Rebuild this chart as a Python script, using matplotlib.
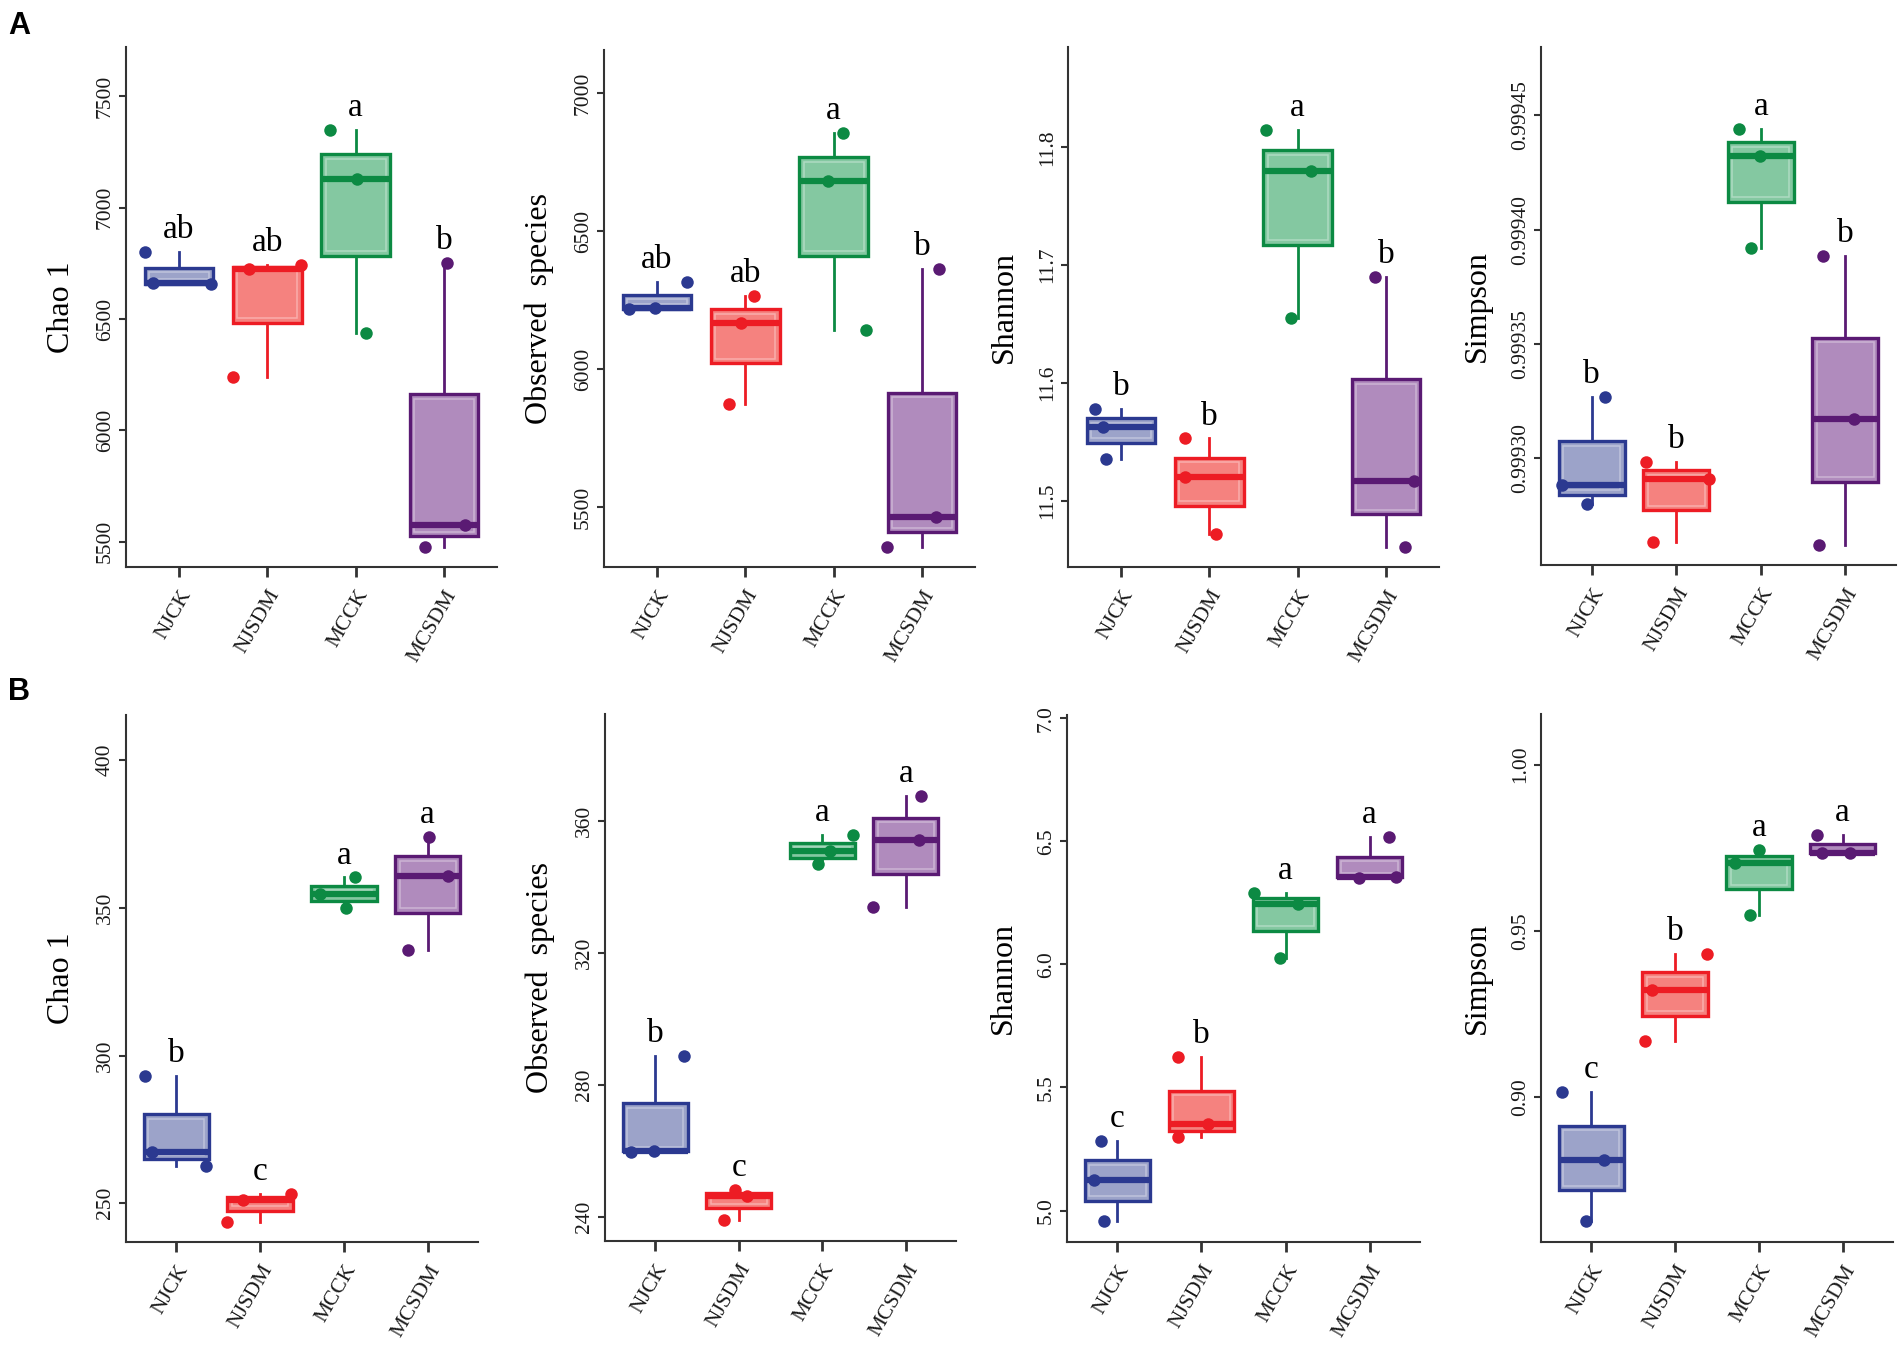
import matplotlib
matplotlib.use('Agg')
import matplotlib.pyplot as plt
from matplotlib.patches import Rectangle
from matplotlib.colors import to_rgb
import numpy as np

plt.rcParams['font.family'] = ['Liberation Serif', 'DejaVu Serif']

groups = ['NJCK', 'NJSDM', 'MCCK', 'MCSDM']
edge_colors = ['#2B3990', '#ED1C24', '#0C8A43', '#5A1A73']
fill_colors = ['#9CA3C9', '#F5827F', '#84C8A1', '#B08BBD']

# row A, three replicates per group
a_chao1 = [[6801, 6662, 6658], [6727, 6743, 6240], [7350, 7130, 6439], [6751, 5574, 5477]]
a_observed = [[6317, 6222, 6218], [6265, 6168, 5874], [6855, 6682, 6141], [6364, 5464, 5354]]
a_shannon = [[11.578, 11.5626, 11.536], [11.553, 11.520, 11.472], [11.815, 11.780, 11.655],
             [11.690, 11.5166, 11.461]]
a_simpson = [[0.9993267, 0.9992879, 0.9992797], [0.9992983, 0.9992907, 0.9992632],
             [0.9994439, 0.9994324, 0.9993918], [0.9993884, 0.9993169, 0.9992619]]

# row B
b_chao1 = [[293.2, 267.2, 262.5], [253.1, 251.2, 243.6], [360.3, 354.8, 350.1], [374.0, 360.9, 335.8]]
b_observed = [[289.0, 259.8, 260.2], [248.2, 246.5, 239.1], [355.9, 351.1, 346.9], [367.7, 354.4, 333.9]]
b_shannon = [[5.284, 5.1226, 4.956], [5.625, 5.350, 5.298], [6.292, 6.247, 6.028], [6.518, 6.352, 6.356]]
b_simpson = [[0.90155, 0.88122, 0.86295], [0.9430, 0.9323, 0.9168], [0.97435, 0.97047, 0.95466],
             [0.97889, 0.97340, 0.97350]]

# significance letters
a_chao1_letters = ['ab', 'ab', 'a', 'b']
a_observed_letters = ['ab', 'ab', 'a', 'b']
a_shannon_letters = ['b', 'b', 'a', 'b']
a_simpson_letters = ['b', 'b', 'a', 'b']
b_chao1_letters = ['b', 'c', 'a', 'a']
b_observed_letters = ['b', 'c', 'a', 'a']
b_shannon_letters = ['c', 'b', 'a', 'a']
b_simpson_letters = ['c', 'b', 'a', 'a']

# horizontal jitter of the points (as drawn)
a_chao1_jit = [[-0.39, -0.30, 0.36], [-0.21, 0.38, -0.39], [-0.29, 0.02, 0.12], [0.03, 0.24, -0.22]]
a_observed_jit = [[0.34, -0.02, -0.32], [0.10, -0.05, -0.19], [0.11, -0.06, 0.37], [0.19, 0.16, -0.40]]
a_shannon_jit = [[-0.29, -0.20, -0.17], [-0.27, -0.27, 0.08], [-0.36, 0.15, -0.08], [-0.13, 0.32, 0.22]]
a_simpson_jit = [[0.16, -0.35, -0.05], [-0.36, 0.39, -0.27], [-0.26, -0.01, -0.11], [-0.26, 0.10, -0.31]]
b_chao1_jit = [[-0.37, -0.29, 0.36], [0.37, -0.20, -0.40], [0.13, -0.29, 0.02], [0.02, 0.24, -0.23]]
b_observed_jit = [[0.35, -0.29, -0.01], [-0.04, 0.10, -0.18], [0.37, 0.09, -0.05], [0.18, 0.16, -0.39]]
b_shannon_jit = [[-0.19, -0.28, -0.16], [-0.28, 0.08, -0.28], [-0.37, 0.15, -0.07], [0.23, -0.12, 0.32]]
b_simpson_jit = [[-0.35, 0.15, -0.06], [0.38, -0.28, -0.36], [0.0, -0.28, -0.11], [-0.31, -0.25, 0.09]]

W, H = 1902, 1346


def px_axes(fig, left, right, top, bottom):
    return fig.add_axes([left / W, 1 - bottom / H, (right - left) / W, (bottom - top) / H])


def lighten(c, amount):
    r = np.array(to_rgb(c))
    return tuple(r + (1 - r) * amount)


def draw_panel(ax, box_px, values, jitter, letters, ylabel, ylim, yticks, fmt):
    pos = np.arange(1, 5)
    ax.set_xlim(0.4, 4.6)
    ax.set_ylim(*ylim)
    # data units per pixel, used for the thin inner outline of each box
    dx = 4.2 / (box_px[1] - box_px[0])
    dy = (ylim[1] - ylim[0]) / (box_px[3] - box_px[2])

    bp = ax.boxplot(values, positions=pos, widths=0.78, whis=(0, 100), patch_artist=True,
                    showcaps=False, showfliers=False, zorder=2)
    for i in range(4):
        bp['boxes'][i].set_facecolor(fill_colors[i])
        bp['boxes'][i].set_edgecolor(edge_colors[i])
        bp['boxes'][i].set_linewidth(2.4)
        bp['medians'][i].set_color(edge_colors[i])
        bp['medians'][i].set_linewidth(4.5)
        bp['medians'][i].set_zorder(3)
        for w in bp['whiskers'][2 * i:2 * i + 2]:
            w.set_color(edge_colors[i])
            w.set_linewidth(2.0)

        q1, q3 = np.percentile(values[i], [25, 75])
        ins = 4.5
        if (q3 - q1) / dy > 2 * ins + 2:
            ax.add_patch(Rectangle((pos[i] - 0.39 + ins * dx, q1 + ins * dy),
                                   0.78 - 2 * ins * dx, (q3 - q1) - 2 * ins * dy,
                                   fill=False, edgecolor=lighten(fill_colors[i], 0.35),
                                   linewidth=1.1, zorder=2.5))

        ax.plot(pos[i] + np.array(jitter[i]), values[i], 'o', ms=9, color=edge_colors[i],
                mec='none', zorder=4)
        ax.annotate(letters[i], xy=(pos[i], max(values[i])), xytext=(0, 10),
                    textcoords='offset points', ha='center', va='baseline', fontsize=24)

    ax.set_yticks(yticks)
    ax.set_yticklabels([fmt % t for t in yticks])
    ax.set_xticks(pos)
    ax.set_xticklabels(groups, rotation=60, ha='right', va='top', rotation_mode='anchor')
    ax.tick_params(axis='x', length=7, width=2, color='#333333', labelsize=15.5, pad=7,
                   labelcolor='#1a1a1a')
    ax.tick_params(axis='y', length=5, width=1.5, color='#333333', labelsize=15.5,
                   labelrotation=90, pad=3, labelcolor='#1a1a1a')
    for lab in ax.get_yticklabels():
        lab.set_va('center')
    for s in ['top', 'right']:
        ax.spines[s].set_visible(False)
    for s in ['left', 'bottom']:
        ax.spines[s].set_color('#333333')
        ax.spines[s].set_linewidth(1.5)
    ax.set_ylabel(ylabel, fontsize=23, labelpad=14)


fig = plt.figure(figsize=(W / 100, H / 100), dpi=100)

panels = [
    ((126, 497, 47, 567), a_chao1, a_chao1_jit, a_chao1_letters, 'Chao 1',
     (5387, 7722), [5500, 6000, 6500, 7000, 7500], '%d'),
    ((604, 975, 50, 567), a_observed, a_observed_jit, a_observed_letters, 'Observed  species',
     (5283, 7157), [5500, 6000, 6500, 7000], '%d'),
    ((1068, 1439, 47, 567), a_shannon, a_shannon_jit, a_shannon_letters, 'Shannon',
     (11.444, 11.885), [11.5, 11.6, 11.7, 11.8], '%.1f'),
    ((1541, 1896, 47, 565), a_simpson, a_simpson_jit, a_simpson_letters, 'Simpson',
     (0.999253, 0.99948), [0.99930, 0.99935, 0.99940, 0.99945], '%.5f'),
    ((126, 478, 715, 1242), b_chao1, b_chao1_jit, b_chao1_letters, 'Chao 1',
     (236.9, 415.3), [250, 300, 350, 400], '%d'),
    ((605, 956, 714, 1241), b_observed, b_observed_jit, b_observed_letters, 'Observed  species',
     (232.8, 392.5), [240, 280, 320, 360], '%d'),
    ((1067, 1420, 715, 1242), b_shannon, b_shannon_jit, b_shannon_letters, 'Shannon',
     (4.872, 7.014), [5.0, 5.5, 6.0, 6.5, 7.0], '%.1f'),
    ((1541, 1893, 714, 1242), b_simpson, b_simpson_jit, b_simpson_letters, 'Simpson',
     (0.8565, 1.0152), [0.90, 0.95, 1.00], '%.2f'),
]

for box, vals, jit, lets, lab, ylim, ticks, fmt in panels:
    ax = px_axes(fig, *box)
    draw_panel(ax, box, vals, jit, lets, lab, ylim, ticks, fmt)

fig.text(8 / W, 1 - 11 / H, 'A', fontsize=22, fontweight='bold', family='Liberation Sans',
         va='top', ha='left')
fig.text(8 / W, 1 - 677 / H, 'B', fontsize=22, fontweight='bold', family='Liberation Sans',
         va='top', ha='left')

fig.savefig('out.png', dpi=100)
